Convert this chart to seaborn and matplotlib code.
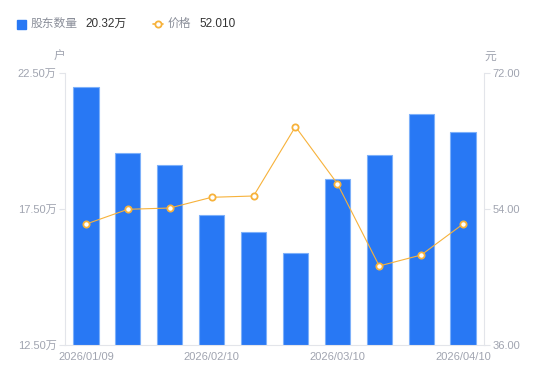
import matplotlib
matplotlib.use("Agg")
import matplotlib.pyplot as plt
import numpy as np
import pandas as pd
import seaborn as sns
from matplotlib.lines import Line2D
from matplotlib.patches import Rectangle

# data
dates = ["2026/01/09", "2026/01/20", "2026/01/30", "2026/02/10", "2026/02/13",
         "2026/02/27", "2026/03/10", "2026/03/20", "2026/03/31", "2026/04/10"]
holders = [21.99, 19.56, 19.12, 17.28, 16.65, 15.88, 18.60, 19.49, 20.99, 20.32]  # 万户
price = [52.00, 53.96, 54.13, 55.55, 55.72, 64.90, 57.35, 46.46, 47.91, 52.01]
shown_dates = ["2026/01/09", "2026/02/10", "2026/03/10", "2026/04/10"]
left_ticks = [12.5, 17.5, 22.5]
right_ticks = [36.0, 54.0, 72.0]

BLUE = "#2878F4"
ORANGE = "#F7B23B"
GRID = "#E3E5EA"
LABEL = "#A0A4B0"
FONTS = ["Liberation Sans", "Noto Sans CJK SC", "DejaVu Sans"]

sns.set_style("white")
plt.rcParams["font.family"] = FONTS

df = pd.DataFrame({"date": dates, "holders": holders, "price": price})

fig = plt.figure(figsize=(5.5, 3.81), dpi=100)
ax = fig.add_axes([65 / 550, 36 / 381, 419 / 550, 272 / 381])

sns.barplot(data=df, x="date", y="holders", order=dates, color=BLUE, saturation=1,
            width=0.6, edgecolor="#7DB0FA", linewidth=0.8, ax=ax)
ax.set_ylim(12.5, 22.5)
ax.set_yticks(left_ticks)
ax.set_yticklabels([f"{v:.2f}万" for v in left_ticks])
ax.set_xticks([dates.index(d) for d in shown_dates])
ax.set_xticklabels(shown_dates)
ax.set_xlabel("")
ax.set_ylabel("")

ax2 = ax.twinx()
sns.pointplot(data=df, x="date", y="price", order=dates, color=ORANGE, ax=ax2,
              markers="o", markersize=4.5, linewidth=0.8,
              markerfacecolor="white", markeredgecolor=ORANGE, markeredgewidth=1.3)
ax2.set_ylim(36, 72)
ax2.set_yticks(right_ticks)
ax2.set_yticklabels([f"{v:.2f}" for v in right_ticks])
ax2.set_ylabel("")
ax2.set_xlabel("")
ax.set_xlim(-0.5, len(dates) - 0.5)

for a in (ax, ax2):
    for s in a.spines.values():
        s.set_visible(False)
    a.grid(False)
ax.spines["left"].set_visible(True)
ax.spines["left"].set_color(GRID)
ax.spines["bottom"].set_visible(True)
ax.spines["bottom"].set_color(GRID)
ax2.spines["right"].set_visible(True)
ax2.spines["right"].set_color(GRID)

ax.tick_params(axis="y", length=4, width=0.8, color=GRID, labelcolor=LABEL,
               labelsize=8, pad=2, left=True)
ax.tick_params(axis="x", length=0, labelcolor=LABEL, labelsize=8, pad=5)
ax2.tick_params(axis="y", length=4, width=0.8, color=GRID, labelcolor=LABEL,
                labelsize=8, pad=2, right=True)

# axis unit labels
fig.text(60 / 550, 1 - 57 / 381, "户", color=LABEL, fontsize=8.5, ha="center", va="center")
fig.text(490 / 550, 1 - 57 / 381, "元", color=LABEL, fontsize=8.5, ha="center", va="center")

# legend
ly = 1 - 24 / 381
fig.patches.append(Rectangle((17 / 550, 1 - 28.5 / 381), 8.5 / 550, 8.5 / 381,
                             transform=fig.transFigure, color=BLUE, figure=fig))
fig.text(31 / 550, ly, "股东数量", color="#8A8E99", fontsize=8.5, va="center")
fig.text(85 / 550, ly, "20.32万", color="#333333", fontsize=8.5, va="center")
fig.lines.append(Line2D([153 / 550, 163 / 550], [ly, ly], transform=fig.transFigure,
                        color=ORANGE, lw=1.2, figure=fig))
fig.lines.append(Line2D([158 / 550], [ly], transform=fig.transFigure, color=ORANGE,
                        marker="o", markersize=4.5, markerfacecolor="white",
                        markeredgewidth=1.3, linestyle="none", figure=fig))
fig.text(168 / 550, ly, "价格", color="#8A8E99", fontsize=8.5, va="center")
fig.text(199 / 550, ly, "52.010", color="#333333", fontsize=8.5, va="center")

fig.savefig("out.png", dpi=100)
